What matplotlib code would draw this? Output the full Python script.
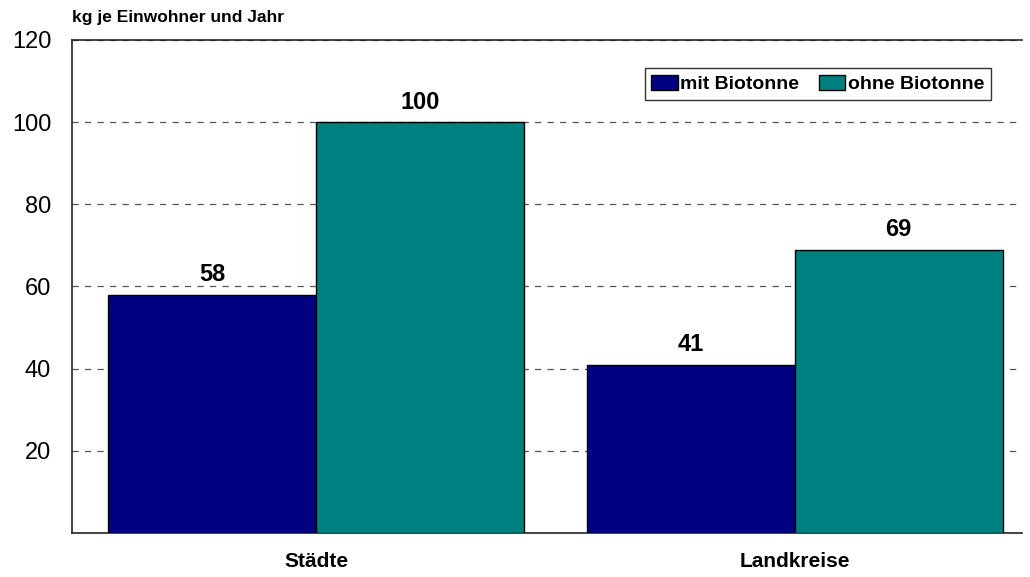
import matplotlib.pyplot as plt
import numpy as np

categories = ["Städte", "Landkreise"]
mit = [58, 41]
ohne = [100, 69]
series_names = ["mit Biotonne", "ohne Biotonne"]
yticks = [20, 40, 60, 80, 100, 120]

plt.rcParams['font.family'] = ['Liberation Sans', 'DejaVu Sans']

fig = plt.figure(figsize=(10.3, 5.77), dpi=100)
ax = fig.add_axes([0.0699, 0.0763, 0.922, 0.8544])

x = np.arange(len(categories))
w = 0.434
b1 = ax.bar(x - w / 2, mit, w, color='#000080', edgecolor='black', linewidth=1, label=series_names[0], zorder=3)
b2 = ax.bar(x + w / 2, ohne, w, color='#008080', edgecolor='black', linewidth=1, label=series_names[1], zorder=3)

for bars, vals in [(b1, mit), (b2, ohne)]:
    for r, v in zip(bars, vals):
        ax.text(r.get_x() + r.get_width() / 2, v + 2.0, str(v), ha='center', va='bottom',
                fontsize=17, fontweight='bold')

ax.set_xlim(-0.51, 1.474)
ax.set_ylim(0, 120)
ax.set_yticks(yticks)
ax.set_yticklabels([str(t) for t in yticks], fontsize=17)
ax.set_xticks(x)
ax.set_xticklabels(categories, fontsize=15, fontweight='bold')
ax.tick_params(length=0)
ax.tick_params(axis='x', pad=14)
ax.tick_params(axis='y', pad=15)

ax.grid(axis='y', linestyle=(0, (5, 5)), color='#555555', linewidth=0.9, zorder=0)
ax.spines['right'].set_visible(False)
for s in ['left', 'top', 'bottom']:
    ax.spines[s].set_linewidth(1.2)
    ax.spines[s].set_color('#222222')

ax.text(0.0, 1.03, "kg je Einwohner und Jahr", transform=ax.transAxes, fontsize=12.5,
        fontweight='bold', ha='left', va='bottom')

leg = ax.legend(loc='upper right', bbox_to_anchor=(0.968, 0.943), ncol=2, borderaxespad=0,
                prop={'weight': 'bold', 'size': 14}, frameon=True, fancybox=False,
                handlelength=1.35, handleheight=0.85, handletextpad=0.15, columnspacing=1.0,
                borderpad=0.35)
leg.get_frame().set_edgecolor('black')
leg.get_frame().set_linewidth(1)

fig.savefig("out.png", dpi=100)
